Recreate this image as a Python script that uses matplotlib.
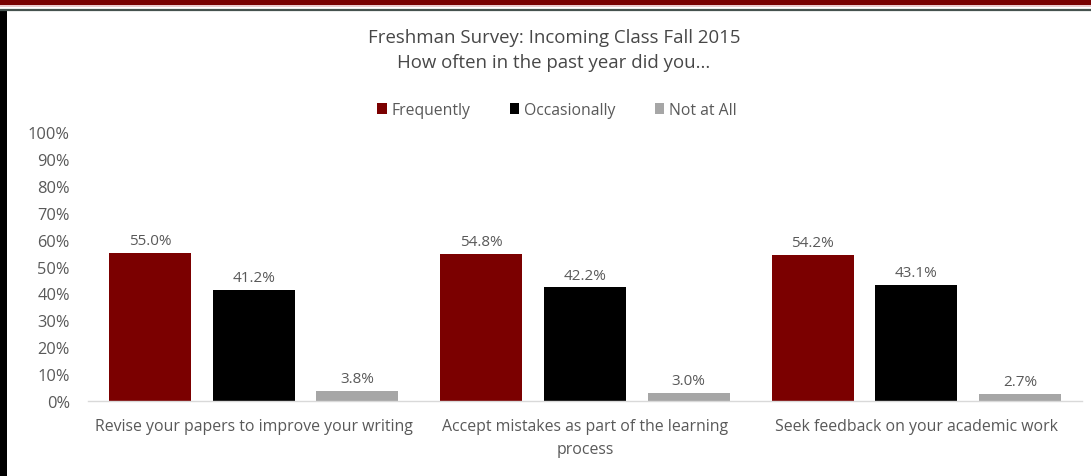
import matplotlib
matplotlib.use("Agg")
import matplotlib.pyplot as plt
from matplotlib.patches import Rectangle
from matplotlib.lines import Line2D
from matplotlib.ticker import FuncFormatter, MultipleLocator
import numpy as np

plt.rcParams['font.family'] = ['Open Sans', 'DejaVu Sans']

categories = [
    "Revise your papers to improve your writing",
    "Accept mistakes as part of the learning\nprocess",
    "Seek feedback on your academic work",
]
series_names = ["Frequently", "Occasionally", "Not at All"]
frequently = [55.0, 54.8, 54.2]
occasionally = [41.2, 42.2, 43.1]
not_at_all = [3.8, 3.0, 2.7]
series_values = [frequently, occasionally, not_at_all]
colors = ["#7b0000", "#000000", "#a6a6a6"]
text_color = "#595959"

W, H = 1091, 477
fig = plt.figure(figsize=(W / 100, H / 100), dpi=100)
fig.patch.set_facecolor("white")

# page frame: maroon header band, thin rule beneath, dark left edge
fig.add_artist(Rectangle((0, 1 - 6 / H), 1, 6 / H, transform=fig.transFigure,
                         facecolor="#780000", edgecolor="none"))
fig.add_artist(Rectangle((0, 1 - 8 / H), 1, 2 / H, transform=fig.transFigure,
                         facecolor="#e9c9cc", edgecolor="none"))
fig.add_artist(Line2D([0, 1], [1 - 10.5 / H, 1 - 10.5 / H], transform=fig.transFigure,
                      color="#45524e", linewidth=1.6))
fig.add_artist(Rectangle((0, 0), 7 / W, 1 - 10 / H, transform=fig.transFigure,
                         facecolor="#000000", edgecolor="none"))

ax = fig.add_axes([88 / W, 1 - 402 / H, (1082 - 88) / W, (402 - 133) / H])

x = np.arange(len(categories))
bar_w = 0.248
step = 0.313
for i, (name, vals, c) in enumerate(zip(series_names, series_values, colors)):
    pos = x + (i - 1) * step
    bars = ax.bar(pos, vals, width=bar_w, color=c, label=name)
    for b, v in zip(bars, vals):
        ax.annotate(f"{v:.1f}%", (b.get_x() + b.get_width() / 2, v),
                    xytext=(0, 3.5), textcoords="offset points",
                    ha="center", va="bottom", fontsize=11, color=text_color)

ax.set_xlim(-0.5, len(categories) - 0.5)
ax.set_ylim(0, 100)
ax.yaxis.set_major_locator(MultipleLocator(10))
ax.yaxis.set_major_formatter(FuncFormatter(lambda v, _: f"{v:.0f}%"))
ax.set_xticks(x)
ax.set_xticklabels(categories, linespacing=1.6)
ax.tick_params(axis="y", length=0, pad=13, labelsize=11.8, labelcolor=text_color)
ax.tick_params(axis="x", length=0, pad=12, labelsize=11.4, labelcolor=text_color)
for s in ["top", "right", "left"]:
    ax.spines[s].set_visible(False)
ax.spines["bottom"].set_color("#d9d9d9")
ax.spines["bottom"].set_linewidth(1.0)

title_color = "#474747"
fig.text(554 / W, 1 - 38 / H, "Freshman Survey: Incoming Class Fall 2015",
         ha="center", va="center", fontsize=13.4, color=title_color)
fig.text(554 / W, 1 - 63 / H, "How often in the past year did you...",
         ha="center", va="center", fontsize=13.4, color=title_color)

leg = fig.legend(loc="center", bbox_to_anchor=(557 / W, 1 - 111 / H), ncol=3,
                 frameon=False, fontsize=11.3, handlelength=0.62, handleheight=0.62,
                 handletextpad=0.3, columnspacing=2.5, labelcolor=text_color)

fig.savefig("out.png", dpi=100, facecolor="white")
